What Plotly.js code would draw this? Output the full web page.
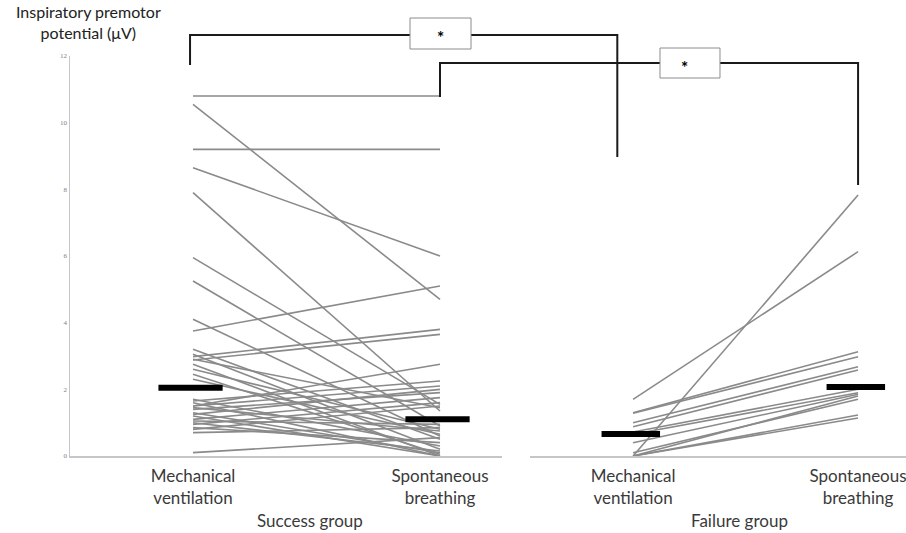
<!DOCTYPE html>
<html><head><meta charset="utf-8">
<script src="https://cdn.plot.ly/plotly-3.0.1.min.js"></script>
<style>html,body{margin:0;padding:0;background:#fff}</style>
</head><body><div id="chart" style="width:906px;height:533px"></div>
<script>
// ---------- data ----------
const conditions = ["Mechanical ventilation", "Spontaneous breathing"];
const groups = ["Success group", "Failure group"];
const yTitle = "Inspiratory premotor<br>potential (μV)";
const yTicks = [0, 2, 4, 6, 8, 10, 12];

// success group: paired values (mechanical ventilation -> spontaneous breathing)
const successMV = [10.8, 10.55, 9.2, 8.65, 7.9, 5.95, 5.25, 4.1, 3.75, 2.98, 2.88, 1.5,
  3.2, 3.05, 2.9, 2.75, 2.6, 2.45, 2.3,
  1.7, 1.65, 1.6, 1.5, 1.45, 1.4, 1.3, 1.25, 1.2, 1.1, 1.05, 1.0, 0.95, 0.85, 0.8, 0.7, 0.1];
const successSB = [10.8, 4.7, 9.2, 6.0, 1.35, 1.55, 0.9, 0.6, 5.1, 3.8, 3.65, 2.75,
  0.5, 0.2, 1.45, 0.0, 0.8, 0.05, 0.65,
  0.3, 2.25, 0.0, 2.1, 0.75, 1.9, 0.1, 2.0, 0.0, 1.75, 0.95, 0.15, 1.6, 0.4, 1.5, 0.85, 0.55];

// failure group
const failureMV = [0.0, 1.7, 1.3, 1.28, 1.0, 0.88, 0.72, 0.65, 0.4, 0.1, 0.0, 0.0, 0.0];
const failureSB = [7.83, 6.13, 3.13, 2.98, 2.68, 2.58, 2.0, 1.9, 1.85, 1.7, 1.8, 1.23, 1.14];

// medians (black bars)
const successMedian = [2.05, 1.1];
const failureMedian = [0.66, 2.07];

// significance brackets
const sigLabel = "*";

// ---------- layout helpers ----------
const W = 906, H = 533;
const yDom = [(H - 456) / H, (H - 56) / H];
const xDomL = [70 / W, 502 / W];
const xDomR = [530 / W, 1];
const xRangeL = [-0.498, 1.251];
const xRangeR = [-0.458, 1.213];
const yRange = [0, 12];

function xp(dom, rng, v) { return dom[0] + (v - rng[0]) / (rng[1] - rng[0]) * (dom[1] - dom[0]); }
function xL(v) { return xp(xDomL, xRangeL, v); }
function xR(v) { return xp(xDomR, xRangeR, v); }
function yp(v) { return yDom[0] + (v - yRange[0]) / (yRange[1] - yRange[0]) * (yDom[1] - yDom[0]); }

const lineColor = '#8a8a8a';
const traces = [];
function pairs(mv, sb, xa) {
  const xs = [], ys = [];
  for (let i = 0; i < mv.length; i++) { xs.push(0, 1, null); ys.push(mv[i], sb[i], null); }
  traces.push({x: xs, y: ys, xaxis: xa, yaxis: 'y', mode: 'lines', type: 'scatter',
    line: {color: lineColor, width: 1.6}, hoverinfo: 'skip', showlegend: false, connectgaps: false});
}
pairs(successMV, successSB, 'x');
pairs(failureMV, failureSB, 'x2');

function medians(med, xa) {
  med.forEach((m, i) => {
    traces.push({x: [i - 0.14, i + 0.12], y: [m, m], xaxis: xa, yaxis: 'y', mode: 'lines', type: 'scatter',
      line: {color: '#000', width: 6}, hoverinfo: 'skip', showlegend: false});
  });
}
medians(successMedian, 'x');
medians(failureMedian, 'x2');

const tickText = conditions.map(c => c.replace(' ', '<br>'));
const axisFont = {family: 'Lato, "Open Sans", sans-serif', size: 17, color: '#3a3a3a'};

function xaxisDef(dom, rng) {
  return {domain: dom, range: rng, anchor: 'y', showline: true, linecolor: '#c6c6c6', linewidth: 1.5,
    ticks: '', showgrid: false, zeroline: false, tickvals: [0, 1], ticktext: tickText,
    tickfont: axisFont, ticklabelstandoff: 4, ticklabeloverflow: 'allow', fixedrange: true};
}

const bk = '#1a1a1a';
const bw = 2;
const shapes = [
  // bracket 1: success MV -> failure MV
  {type: 'path', xref: 'paper', yref: 'paper', line: {color: bk, width: bw},
   path: `M ${xL(-0.012)} ${yp(11.73)} L ${xL(-0.012)} ${yp(12.63)} L ${xR(-0.07)} ${yp(12.63)} L ${xR(-0.07)} ${yp(8.97)}`},
  // bracket 2: success SB -> failure SB
  {type: 'path', xref: 'paper', yref: 'paper', line: {color: bk, width: bw},
   path: `M ${xL(1)} ${yp(10.77)} L ${xL(1)} ${yp(11.79)} L ${xR(1)} ${yp(11.79)} L ${xR(1)} ${yp(8.13)}`},
  // boxes
  {type: 'rect', xref: 'paper', yref: 'paper', x0: xL(1) - 30 / W, x1: xL(1) + 31 / W, y0: yp(12.21), y1: yp(13.14),
   fillcolor: '#fff', line: {color: '#8c8c8c', width: 1}},
  {type: 'rect', xref: 'paper', yref: 'paper', x0: xR(0.253) - 30 / W, x1: xR(0.253) + 30 / W, y0: yp(11.34), y1: yp(12.24),
   fillcolor: '#fff', line: {color: '#8c8c8c', width: 1}}
];

const annotations = [
  {text: yTitle, xref: 'paper', yref: 'paper', x: 88 / W, y: (H - 22) / H, xanchor: 'center', yanchor: 'middle',
   showarrow: false, font: {family: 'Lato, "Open Sans", sans-serif', size: 16, color: '#222'}},
  {text: '<b>' + sigLabel + '</b>', xref: 'paper', yref: 'paper', x: xL(1), y: yp(12.92), showarrow: false,
   font: {family: 'Lato, sans-serif', size: 17, color: '#000'}},
  {text: '<b>' + sigLabel + '</b>', xref: 'paper', yref: 'paper', x: xR(0.253), y: yp(12.04), showarrow: false,
   font: {family: 'Lato, sans-serif', size: 17, color: '#000'}},
  {text: groups[0], xref: 'x', yref: 'paper', x: 0.475, y: (H - 520) / H, yanchor: 'middle', showarrow: false, font: axisFont},
  {text: groups[1], xref: 'x2', yref: 'paper', x: 0.475, y: (H - 520) / H, yanchor: 'middle', showarrow: false, font: axisFont}
];

const layout = {
  width: W, height: H, margin: {l: 0, r: 0, t: 0, b: 0},
  paper_bgcolor: '#fff', plot_bgcolor: 'rgba(0,0,0,0)', showlegend: false,
  xaxis: xaxisDef(xDomL, xRangeL),
  xaxis2: xaxisDef(xDomR, xRangeR),
  yaxis: {domain: yDom, range: yRange, anchor: 'x', showline: true, linecolor: '#c6c6c6', linewidth: 1.5,
    ticks: '', showgrid: false, zeroline: false, tickvals: yTicks,
    tickfont: {family: '"Liberation Serif", serif', size: 7, color: '#808080'}, fixedrange: true},
  shapes: shapes,
  annotations: annotations
};

Plotly.newPlot('chart', traces, layout, {displayModeBar: false, staticPlot: true});
</script>
</body></html>
